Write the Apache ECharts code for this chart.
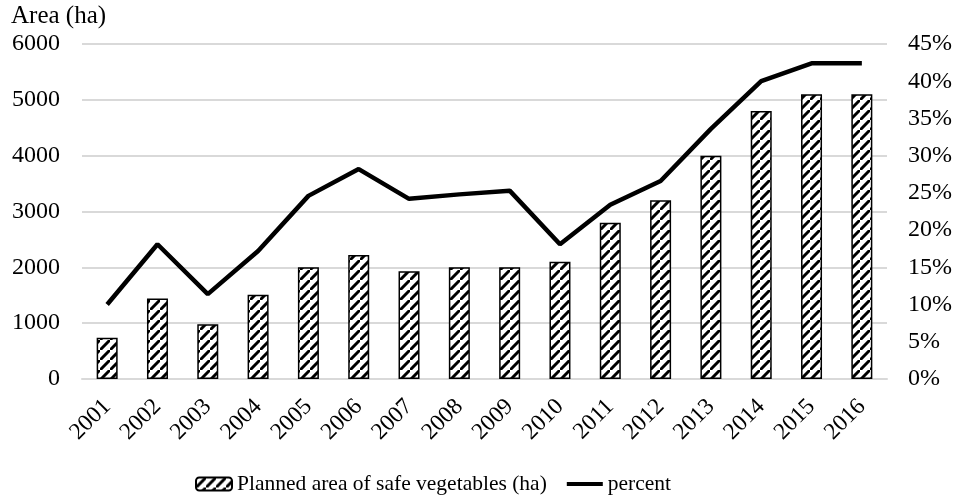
<!DOCTYPE html>
<html><head><meta charset="utf-8">
<script src="https://cdn.jsdelivr.net/npm/echarts@6/dist/echarts.min.js"></script>
<style>html,body{margin:0;padding:0;background:#fff}#c{width:957px;height:500px}</style>
</head><body><div id="c"></div>
<script>
const years = ['2001','2002','2003','2004','2005','2006','2007','2008','2009','2010','2011','2012','2013','2014','2015','2016'];
const areaHa = [740,1440,980,1510,2000,2220,1930,2000,2000,2100,2800,3200,4000,4800,5100,5100];
const percentVals = [10,18.1,11.4,17.2,24.6,28.2,24.2,24.8,25.3,18.1,23.4,26.6,33.6,40,42.4,42.4];
const leftTicks = [0,1000,2000,3000,4000,5000,6000];
const rightTicks = [0,5,10,15,20,25,30,35,40,45];

function hatch(){
  const s=10, c=document.createElement('canvas'); c.width=s; c.height=s;
  const g=c.getContext('2d');
  g.fillStyle='#fff'; g.fillRect(0,0,s,s);
  g.strokeStyle='#000'; g.lineWidth=3; g.lineCap='square';
  g.beginPath();
  g.moveTo(-s,s*2); g.lineTo(s*2,-s);
  g.moveTo(-s*2,s); g.lineTo(s,-s*2);
  g.moveTo(0,s*3); g.lineTo(s*3,0);
  g.stroke();
  return c;
}
const pat = {image: hatch(), repeat:'repeat'};
const font = 'Liberation Serif';
const lineIcon = 'path://M0,0L0.01,0L0.01,0.01L0,0.01ZM0,13L0.01,13L0.01,12.99L0,12.99ZM0,4.5L36,4.5L36,8.5L0,8.5Z';
const chart = echarts.init(document.getElementById('c'));
chart.setOption({
  animation:false,
  textStyle:{fontFamily:font,color:'#000'},
  title:{text:'Area (ha)',left:11,top:4,padding:0,textStyle:{fontFamily:font,fontSize:25,fontWeight:'normal',color:'#000'}},
  grid:{left:82,right:70,top:44,bottom:121},
  legend:{left:195,top:473,itemWidth:36,itemHeight:13,itemGap:20,padding:0,
    textStyle:{fontFamily:font,fontSize:21.5,color:'#000'},
    data:[{name:'Planned area of safe vegetables (ha)'},{name:'percent',icon:lineIcon,itemStyle:{color:'#000'}}]},
  xAxis:{type:'category',data:years,
    axisLine:{lineStyle:{color:'#d9d9d9',width:2}},axisTick:{show:false},
    axisLabel:{rotate:45,fontSize:23.5,fontFamily:font,color:'#000',margin:24}},
  yAxis:[
    {type:'value',min:leftTicks[0],max:leftTicks[leftTicks.length-1],interval:1000,
     axisLabel:{fontSize:24,fontFamily:font,color:'#000',margin:22,formatter:v=>String(v)},
     axisLine:{show:false},axisTick:{show:false},
     splitLine:{lineStyle:{color:'#d9d9d9',width:2}}},
    {type:'value',min:rightTicks[0],max:rightTicks[rightTicks.length-1],interval:5,
     axisLabel:{fontSize:24,fontFamily:font,color:'#000',margin:21,formatter:'{value}%'},
     axisLine:{show:false},axisTick:{show:false},splitLine:{show:false}}
  ],
  series:[
    {name:'Planned area of safe vegetables (ha)',type:'bar',data:areaHa,barWidth:21,
     itemStyle:{color:pat,borderColor:'#000',borderWidth:1.5}},
    {name:'percent',type:'line',yAxisIndex:1,data:percentVals,symbol:'none',
     lineStyle:{color:'#000',width:4.5},itemStyle:{color:'#000'}}
  ]
});
</script></body></html>
